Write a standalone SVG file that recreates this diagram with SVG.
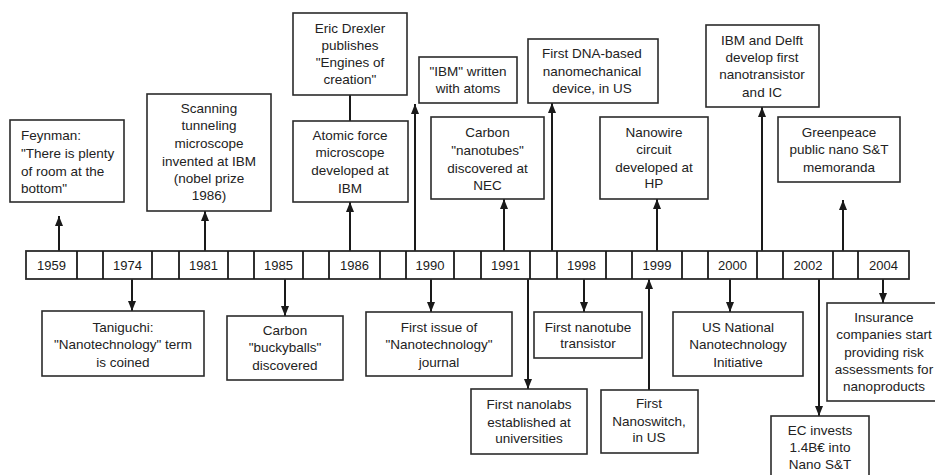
<svg xmlns="http://www.w3.org/2000/svg" width="935" height="475" viewBox="0 0 935 475">
<style>
.box{fill:#fff;stroke:#2b2b2b;stroke-width:1.6}
.t{font-family:"Liberation Sans",Arial,sans-serif;font-size:13.5px;fill:#222;text-anchor:middle}
.tl{text-anchor:start}
.yr{font-family:"Liberation Sans",Arial,sans-serif;font-size:13px;fill:#1a1a1a;text-anchor:middle}
.cell{fill:#fff;stroke:#2b2b2b;stroke-width:1.8}
.c{stroke:#1a1a1a;stroke-width:2;fill:none}
.ca{stroke:#1a1a1a;stroke-width:2;fill:none;marker-end:url(#ah)}
</style>
<defs>
<marker id="ah" markerUnits="userSpaceOnUse" markerWidth="10" markerHeight="8" refX="10" refY="4" orient="auto">
<path d="M0,0 L10,4 L0,8 z" fill="#1a1a1a"/>
</marker>
</defs>
<rect width="935" height="475" fill="#fff"/>

<g id="connectors">
<line class="ca" x1="59" y1="251" x2="59" y2="216"/>
<line class="ca" x1="205" y1="251" x2="205" y2="211"/>
<line class="ca" x1="350" y1="251" x2="350" y2="202"/>
<line class="c" x1="350" y1="95" x2="350" y2="121"/>
<line class="ca" x1="415" y1="251" x2="415" y2="104"/>
<line class="ca" x1="504" y1="251" x2="504" y2="199"/>
<line class="ca" x1="552" y1="251" x2="552" y2="103"/>
<line class="ca" x1="657" y1="251" x2="657" y2="199"/>
<line class="ca" x1="762" y1="251" x2="762" y2="107"/>
<line class="ca" x1="843" y1="251" x2="843" y2="200"/>
<line class="ca" x1="132" y1="279" x2="132" y2="311"/>
<line class="ca" x1="285" y1="279" x2="285" y2="316"/>
<line class="ca" x1="431" y1="279" x2="431" y2="312"/>
<line class="ca" x1="528" y1="279" x2="528" y2="389"/>
<line class="ca" x1="584" y1="279" x2="584" y2="312"/>
<line class="ca" x1="649" y1="390" x2="649" y2="279"/>
<line class="ca" x1="730" y1="279" x2="730" y2="312"/>
<line class="ca" x1="819" y1="279" x2="819" y2="416"/>
<line class="ca" x1="883" y1="279" x2="883" y2="303"/>
</g>

<g id="timeline">
<rect class="cell" x="26" y="251" width="883" height="28"/>
<g class="c" style="stroke-width:1.8">
<line x1="77" y1="251" x2="77" y2="279"/>
<line x1="103" y1="251" x2="103" y2="279"/>
<line x1="152" y1="251" x2="152" y2="279"/>
<line x1="179" y1="251" x2="179" y2="279"/>
<line x1="228" y1="251" x2="228" y2="279"/>
<line x1="254" y1="251" x2="254" y2="279"/>
<line x1="303" y1="251" x2="303" y2="279"/>
<line x1="329" y1="251" x2="329" y2="279"/>
<line x1="380" y1="251" x2="380" y2="279"/>
<line x1="406" y1="251" x2="406" y2="279"/>
<line x1="454" y1="251" x2="454" y2="279"/>
<line x1="481" y1="251" x2="481" y2="279"/>
<line x1="530" y1="251" x2="530" y2="279"/>
<line x1="557" y1="251" x2="557" y2="279"/>
<line x1="606" y1="251" x2="606" y2="279"/>
<line x1="632" y1="251" x2="632" y2="279"/>
<line x1="682" y1="251" x2="682" y2="279"/>
<line x1="708" y1="251" x2="708" y2="279"/>
<line x1="757" y1="251" x2="757" y2="279"/>
<line x1="783" y1="251" x2="783" y2="279"/>
<line x1="833" y1="251" x2="833" y2="279"/>
<line x1="858" y1="251" x2="858" y2="279"/>
</g>
<text class="yr" x="51.5" y="270">1959</text>
<text class="yr" x="127.5" y="270">1974</text>
<text class="yr" x="203.5" y="270">1981</text>
<text class="yr" x="278.5" y="270">1985</text>
<text class="yr" x="354.5" y="270">1986</text>
<text class="yr" x="430" y="270">1990</text>
<text class="yr" x="505.5" y="270">1991</text>
<text class="yr" x="581.5" y="270">1998</text>
<text class="yr" x="657" y="270">1999</text>
<text class="yr" x="732.5" y="270">2000</text>
<text class="yr" x="808" y="270">2002</text>
<text class="yr" x="883.5" y="270">2004</text>
</g>

<g id="feynman">
<rect class="box" x="10" y="120" width="114" height="82"/>
<text class="t tl" x="21" y="140">Feynman:</text>
<text class="t tl" x="21" y="158">"There is plenty</text>
<text class="t tl" x="21" y="176">of room at the</text>
<text class="t tl" x="21" y="193">bottom"</text>
</g>
<g id="stm">
<rect class="box" x="147" y="94" width="124" height="117"/>
<text class="t" x="209" y="113">Scanning</text>
<text class="t" x="209" y="130">tunneling</text>
<text class="t" x="209" y="148">microscope</text>
<text class="t" x="209" y="166">invented at IBM</text>
<text class="t" x="209" y="183">(nobel prize</text>
<text class="t" x="209" y="200">1986)</text>
</g>
<g id="drexler">
<rect class="box" x="293" y="13" width="114" height="82"/>
<text class="t" x="350" y="33">Eric Drexler</text>
<text class="t" x="350" y="50">publishes</text>
<text class="t" x="350" y="67">"Engines of</text>
<text class="t" x="350" y="84">creation"</text>
</g>
<g id="afm">
<rect class="box" x="293" y="121" width="115" height="81"/>
<text class="t" x="350" y="140">Atomic force</text>
<text class="t" x="350" y="157">microscope</text>
<text class="t" x="350" y="175">developed at</text>
<text class="t" x="350" y="193">IBM</text>
</g>
<g id="ibmatoms">
<rect class="box" x="419" y="57" width="98" height="46"/>
<text class="t" x="468" y="76">"IBM" written</text>
<text class="t" x="468" y="93">with atoms</text>
</g>
<g id="nanotubes">
<rect class="box" x="431" y="117" width="113" height="82"/>
<text class="t" x="487.5" y="137">Carbon</text>
<text class="t" x="487.5" y="155">"nanotubes"</text>
<text class="t" x="487.5" y="173">discovered at</text>
<text class="t" x="487.5" y="190">NEC</text>
</g>
<g id="dna">
<rect class="box" x="528" y="39" width="130" height="64"/>
<text class="t" x="592" y="58">First DNA-based</text>
<text class="t" x="592" y="76">nanomechanical</text>
<text class="t" x="592" y="93">device, in US</text>
</g>
<g id="nanowire">
<rect class="box" x="600" y="117" width="108" height="82"/>
<text class="t" x="654" y="137">Nanowire</text>
<text class="t" x="654" y="154">circuit</text>
<text class="t" x="654" y="172">developed at</text>
<text class="t" x="654" y="188">HP</text>
</g>
<g id="delft">
<rect class="box" x="706" y="25" width="113" height="82"/>
<text class="t" x="762" y="45">IBM and Delft</text>
<text class="t" x="762" y="62">develop first</text>
<text class="t" x="762" y="79">nanotransistor</text>
<text class="t" x="762" y="97">and IC</text>
</g>
<g id="greenpeace">
<rect class="box" x="778" y="117" width="122" height="65"/>
<text class="t" x="839" y="137">Greenpeace</text>
<text class="t" x="839" y="154">public nano S&amp;T</text>
<text class="t" x="839" y="172">memoranda</text>
</g>
<g id="taniguchi">
<rect class="box" x="42" y="311" width="162" height="65"/>
<text class="t" x="123" y="332">Taniguchi:</text>
<text class="t" x="123" y="349">"Nanotechnology" term</text>
<text class="t" x="123" y="367">is coined</text>
</g>
<g id="buckyballs">
<rect class="box" x="227" y="316" width="116" height="64"/>
<text class="t" x="285" y="335">Carbon</text>
<text class="t" x="285" y="352">"buckyballs"</text>
<text class="t" x="285" y="370">discovered</text>
</g>
<g id="journal">
<rect class="box" x="366" y="312" width="146" height="64"/>
<text class="t" x="439" y="332">First issue of</text>
<text class="t" x="439" y="349">"Nanotechnology"</text>
<text class="t" x="439" y="367">journal</text>
</g>
<g id="nanolabs">
<rect class="box" x="471" y="389" width="116" height="65"/>
<text class="t" x="529" y="409">First nanolabs</text>
<text class="t" x="529" y="427">established at</text>
<text class="t" x="529" y="443">universities</text>
</g>
<g id="transistor">
<rect class="box" x="534" y="312" width="108" height="46"/>
<text class="t" x="588" y="332">First nanotube</text>
<text class="t" x="588" y="348">transistor</text>
</g>
<g id="nanoswitch">
<rect class="box" x="601" y="390" width="97" height="63"/>
<text class="t" x="649" y="408">First</text>
<text class="t" x="649" y="426">Nanoswitch,</text>
<text class="t" x="649" y="442">in US</text>
</g>
<g id="usnni">
<rect class="box" x="673" y="312" width="130" height="64"/>
<text class="t" x="738" y="332">US National</text>
<text class="t" x="738" y="349">Nanotechnology</text>
<text class="t" x="738" y="367">Initiative</text>
</g>
<g id="ec">
<rect class="box" x="771" y="416" width="98" height="70"/>
<text class="t" x="820" y="435">EC invests</text>
<text class="t" x="820" y="452">1.4B€ into</text>
<text class="t" x="820" y="469">Nano S&amp;T</text>
</g>
<g id="insurance">
<rect class="box" x="827" y="303" width="130" height="98"/>
<text class="t" x="884" y="322">Insurance</text>
<text class="t" x="884" y="339">companies start</text>
<text class="t" x="884" y="357">providing risk</text>
<text class="t" x="884" y="374">assessments for</text>
<text class="t" x="884" y="391">nanoproducts</text>
</g>
</svg>
